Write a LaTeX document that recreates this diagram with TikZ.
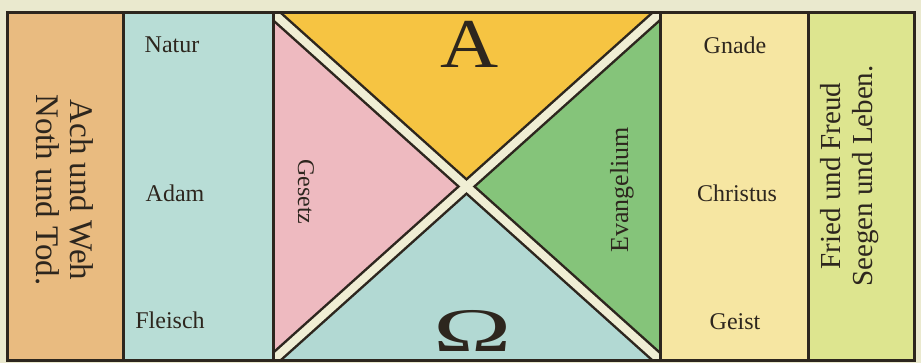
\documentclass[tikz,border=0pt]{standalone}
\usepackage{fontspec}
\setmainfont{Liberation Serif}
\usetikzlibrary{calc}
\definecolor{paper}{RGB}{234,233,206}
\definecolor{ink}{RGB}{45,38,30}
\definecolor{cOrange}{RGB}{233,187,128}
\definecolor{cBlue}{RGB}{184,221,214}
\definecolor{cPink}{RGB}{238,186,192}
\definecolor{cGold}{RGB}{246,196,66}
\definecolor{cGreen}{RGB}{133,196,122}
\definecolor{cBlueB}{RGB}{178,217,211}
\definecolor{cPale}{RGB}{246,230,162}
\definecolor{cLime}{RGB}{221,229,143}
\definecolor{band}{RGB}{240,238,212}
\tikzset{
  lbl/.style={font=\fontsize{24}{26}\selectfont, text=ink, inner sep=0pt},
  lblL/.style={font=\fontsize{33}{34}\selectfont, text=ink, inner sep=0pt, align=center},
  lblR/.style={font=\fontsize{29}{32}\selectfont, text=ink, inner sep=0pt, align=center},
  greek/.style={font=\fontsize{70}{70}\selectfont, text=ink, inner sep=0pt},
  frame/.style={draw=ink, line width=3pt},
}
\begin{document}
\begin{tikzpicture}[x=1pt,y=-1pt]
\useasboundingbox (0,0) rectangle (921,363);
\fill[paper] (0,0) rectangle (921,363);
% columns
\fill[cOrange] (7,13) rectangle (123,360);
\fill[cBlue] (123,13) rectangle (273,360);
\fill[cPale] (660,13) rectangle (808,360);
\fill[cLime] (808,13) rectangle (914,360);
% square
\coordinate (tl) at (273,13);
\coordinate (tr) at (660,13);
\coordinate (bl) at (273,360);
\coordinate (br) at (660,360);
\coordinate (c) at (466.5,186.5);
\fill[cGold] (tl) -- (tr) -- (c) -- cycle;
\fill[cPink] (tl) -- (bl) -- (c) -- cycle;
\fill[cGreen] (tr) -- (br) -- (c) -- cycle;
\fill[cBlueB] (bl) -- (br) -- (c) -- cycle;
% texts inside the square
\node[greek, xscale=1.15, anchor=base] (alpha) at (470,68) {A};
\node[greek, font=\fontsize{62}{62}\selectfont, xscale=1.7, anchor=base] (omega) at (473,351) {Ω};
\begin{scope}
\clip (tl) rectangle (br);
\draw[ink, line width=13pt] ($(tl)!-0.05!(br)$) -- ($(tl)!1.05!(br)$);
\draw[ink, line width=13pt] ($(tr)!-0.05!(bl)$) -- ($(tr)!1.05!(bl)$);
\draw[band, line width=8pt] ($(tl)!-0.05!(br)$) -- ($(tl)!1.05!(br)$);
\draw[band, line width=8pt] ($(tr)!-0.05!(bl)$) -- ($(tr)!1.05!(bl)$);
\end{scope}
% frame lines
\draw[frame] (7,13) rectangle (914,360);
\draw[frame] (123,13) -- (123,360);
\draw[frame] (273,13) -- (273,360);
\draw[frame] (660,13) -- (660,360);
\draw[frame] (808,13) -- (808,360);
% texts
\node[lblL, rotate=-90] (ach) at (65,190) {Ach und Weh\\Noth und Tod.};
\node[lbl] (natur) at (172,45) {Natur};
\node[lbl] (adam) at (175,193) {Adam};
\node[lbl] (fleisch) at (170,320) {Fleisch};
\node[lbl, rotate=-90] (gesetz) at (306,192) {Gesetz};
\node[lbl, font=\fontsize{26}{28}\selectfont, rotate=90] (evang) at (622,190) {Evangelium};
\node[lbl] (gnade) at (735,45) {Gnade};
\node[lbl] (christus) at (737,193) {Christus};
\node[lbl] (geist) at (735,322) {Geist};
\node[lblR, rotate=90] (fried) at (850,176) {Fried und Freud\\Seegen und Leben.};
\end{tikzpicture}
\end{document}
